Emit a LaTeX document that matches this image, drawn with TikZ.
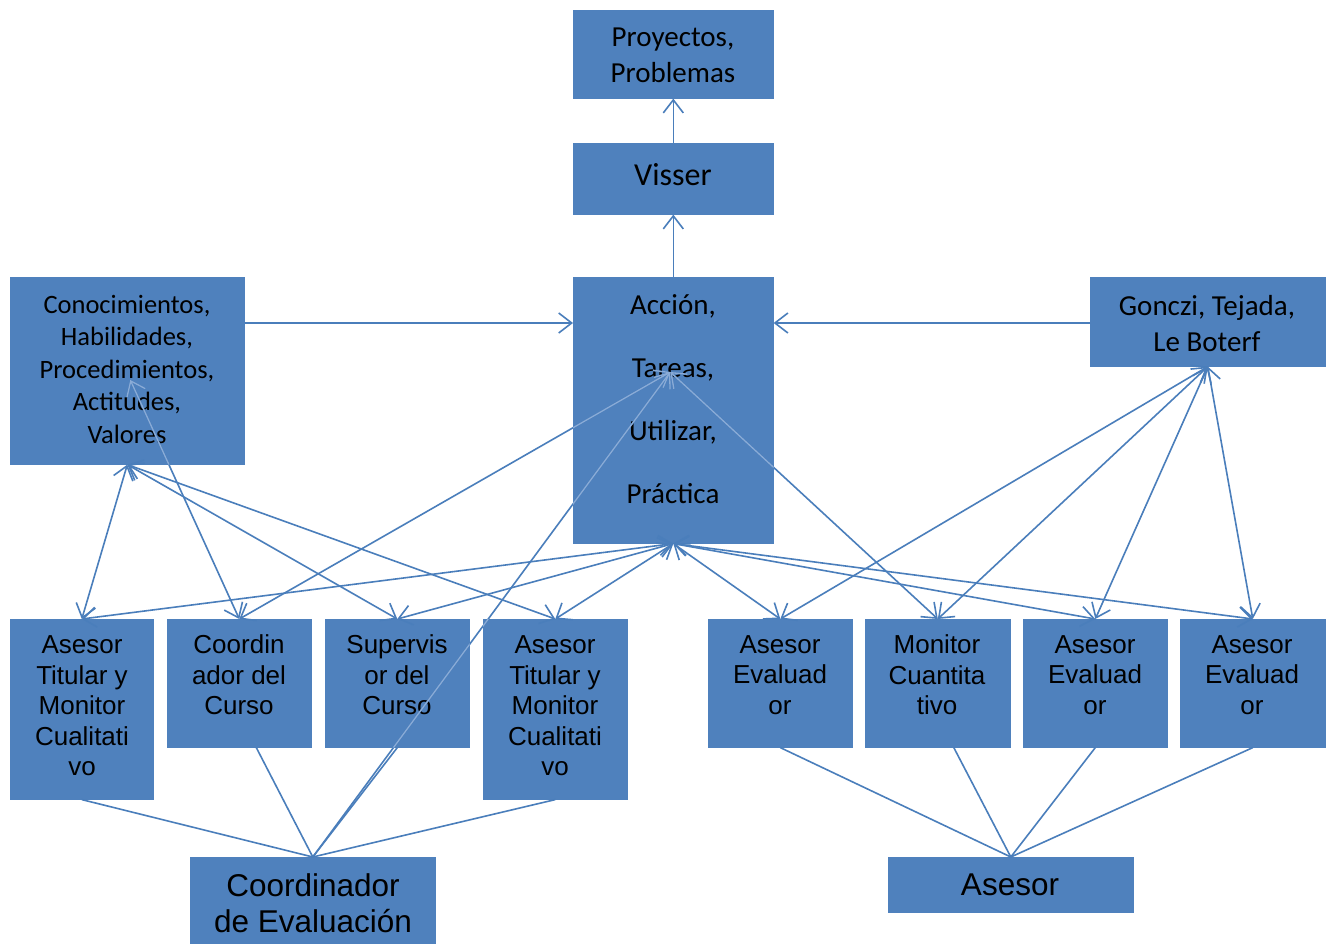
\documentclass[tikz,border=0pt]{standalone}
\usepackage{fontspec}
\setmainfont{Carlito}
\newfontfamily\arialf{Liberation Sans}
\usetikzlibrary{arrows.meta,calc}
\definecolor{boxblue}{HTML}{4F81BD}
\definecolor{lineblue}{HTML}{4A7EBB}
\definecolor{lightline}{HTML}{8AABD6}
\begin{document}
\begin{tikzpicture}[x=1pt,y=-1pt,
  box/.style={fill=boxblue, draw=boxblue, line width=0.6pt, inner sep=0pt, anchor=north west},
  txt/.style={inner sep=0pt, align=center, text=black},
  topf/.style={font=\fontsize{29}{36}\selectfont},
  botf/.style={font=\arialf\fontsize{26}{30.5}\selectfont},
  bigf/.style={font=\arialf\fontsize{31.5}{36.5}\selectfont},
  conn/.style={draw=lineblue, line width=1.6pt},
  tipb/.tip={Straight Barb[length=13pt,width=20pt]},
  arr/.style={conn, -tipb},
  darr/.style={conn, tipb-tipb},
  larr/.style={draw=lightline, line width=1.3pt, -tipb},
  ldarr/.style={draw=lightline, line width=1.3pt, tipb-tipb}]
\useasboundingbox (0,0) rectangle (1331,944);
\fill[white] (0,0) rectangle (1331,944);
% boxes
\node[box, minimum width=200pt, minimum height=88pt] (proy) at (573,10) {};
\node[box, minimum width=200pt, minimum height=71pt] (visser) at (573,143) {};
\node[box, minimum width=200pt, minimum height=266pt] (acc) at (573,277) {};
\node[box, minimum width=234pt, minimum height=187pt] (con) at (10,277) {};
\node[box, minimum width=235pt, minimum height=89pt] (gon) at (1090,277) {};
\node[box, minimum width=143pt, minimum height=180pt] (at1) at (10,619) {};
\node[box, minimum width=144pt, minimum height=128pt] (coord) at (167,619) {};
\node[box, minimum width=144pt, minimum height=128pt] (sup) at (325,619) {};
\node[box, minimum width=144pt, minimum height=180pt] (at2) at (483,619) {};
\node[box, minimum width=144pt, minimum height=128pt] (ae1) at (708,619) {};
\node[box, minimum width=145pt, minimum height=128pt] (mon) at (865,619) {};
\node[box, minimum width=144pt, minimum height=128pt] (ae2) at (1023,619) {};
\node[box, minimum width=145pt, minimum height=128pt] (ae3) at (1180,619) {};
\node[box, minimum width=245pt, minimum height=88pt] (ce) at (190,857) {};
\node[box, minimum width=245pt, minimum height=55pt] (as) at (888,857) {};
% texts
\node[txt, topf] (proy-t) at (673,55) {Proyectos,\\Problemas};
\node[txt, font=\fontsize{32}{38}\selectfont] (visser-t) at (673,175) {Visser};
\node[txt, font=\fontsize{26.5}{32.5}\selectfont] (con-t) at (127,369) {Conocimientos,\\Habilidades,\\Procedimientos,\\Actitudes,\\Valores};
\node[txt, font=\fontsize{29}{63}\selectfont] (acc-t) at (673,399) {Acción,\\Tareas,\\Utilizar,\\Práctica};
\node[txt, topf] (gon-t) at (1207,324) {Gonczi, Tejada,\\Le Boterf};
\node[txt, botf] (at1-t) at (82,706) {Asesor\\Titular y\\Monitor\\Cualitati\\vo};
\node[txt, botf] (coord-t) at (239,675) {Coordin\\ador del\\Curso};
\node[txt, botf] (sup-t) at (397,675) {Supervis\\or del\\Curso};
\node[txt, botf] (at2-t) at (555,706) {Asesor\\Titular y\\Monitor\\Cualitati\\vo};
\node[txt, botf] (ae1-t) at (780,675) {Asesor\\Evaluad\\or};
\node[txt, botf] (mon-t) at (937,675) {Monitor\\Cuantita\\tivo};
\node[txt, botf] (ae2-t) at (1095,675) {Asesor\\Evaluad\\or};
\node[txt, botf] (ae3-t) at (1252,675) {Asesor\\Evaluad\\or};
\node[txt, bigf] (ce-t) at (313,903) {Coordinador\\de Evaluación};
\node[txt, bigf] (as-t) at (1010,885) {Asesor};
% hub points inside boxes
\coordinate (accin) at ($(acc.north)+(-3,95)$);
\coordinate (conin) at ($(con.north)+(3,103)$);
% top arrows
\draw[arr] (visser.north) -- (proy.south);
\draw[arr] (acc.north) -- (visser.south);
\draw[arr] ($(con.north east)+(0,46)$) -- ($(acc.north west)+(0,46)$);
\draw[arr] ($(gon.north west)+(0,46)$) -- ($(acc.north east)+(0,46)$);
% from Conocimientos
\draw[darr] (con.south) -- (at1.north);
\draw[darr] (con.south) -- (sup.north);
\draw[darr] (con.south) -- (at2.north);
\draw[darr] (conin) -- (coord.north);
% from Accion interior
\draw[darr] (accin) -- (coord.north);
\draw[darr] (accin) -- (mon.north);
\draw[arr] (ce.north) -- (accin);
% from Accion bottom
\draw[darr] (acc.south) -- (at1.north);
\draw[darr] (acc.south) -- (sup.north);
\draw[darr] (acc.south) -- (at2.north);
\draw[darr] (acc.south) -- (ae1.north);
\draw[darr] (acc.south) -- (ae2.north);
\draw[darr] (acc.south) -- (ae3.north);
% from Gonczi
\draw[darr] (gon.south) -- (ae1.north);
\draw[darr] (gon.south) -- (mon.north);
\draw[darr] (gon.south) -- (ae2.north);
\draw[darr] (gon.south) -- (ae3.north);
% bottom links
\draw[conn] (at1.south) -- (ce.north);
\draw[conn] ([xshift=17pt]coord.south) -- (ce.north);
\draw[conn] (sup.south) -- (ce.north);
\draw[conn] (at2.south) -- (ce.north);
\draw[conn] (ae1.south) -- (as.north);
\draw[conn] ([xshift=16pt]mon.south) -- (as.north);
\draw[conn] (ae2.south) -- (as.north);
\draw[conn] (ae3.south) -- (as.north);
% lighter segments where lines cross boxes
\begin{scope}
  \clip (acc.north west) rectangle (acc.south east)
        (con.north west) rectangle (con.south east)
        (sup.north west) rectangle (sup.south east)
        (at2.north west) rectangle (at2.south east);
  \draw[ldarr] (accin) -- (coord.north);
  \draw[ldarr] (accin) -- (mon.north);
  \draw[larr] (ce.north) -- (accin);
  \draw[ldarr] (conin) -- (coord.north);
\end{scope}
\end{tikzpicture}
\end{document}
